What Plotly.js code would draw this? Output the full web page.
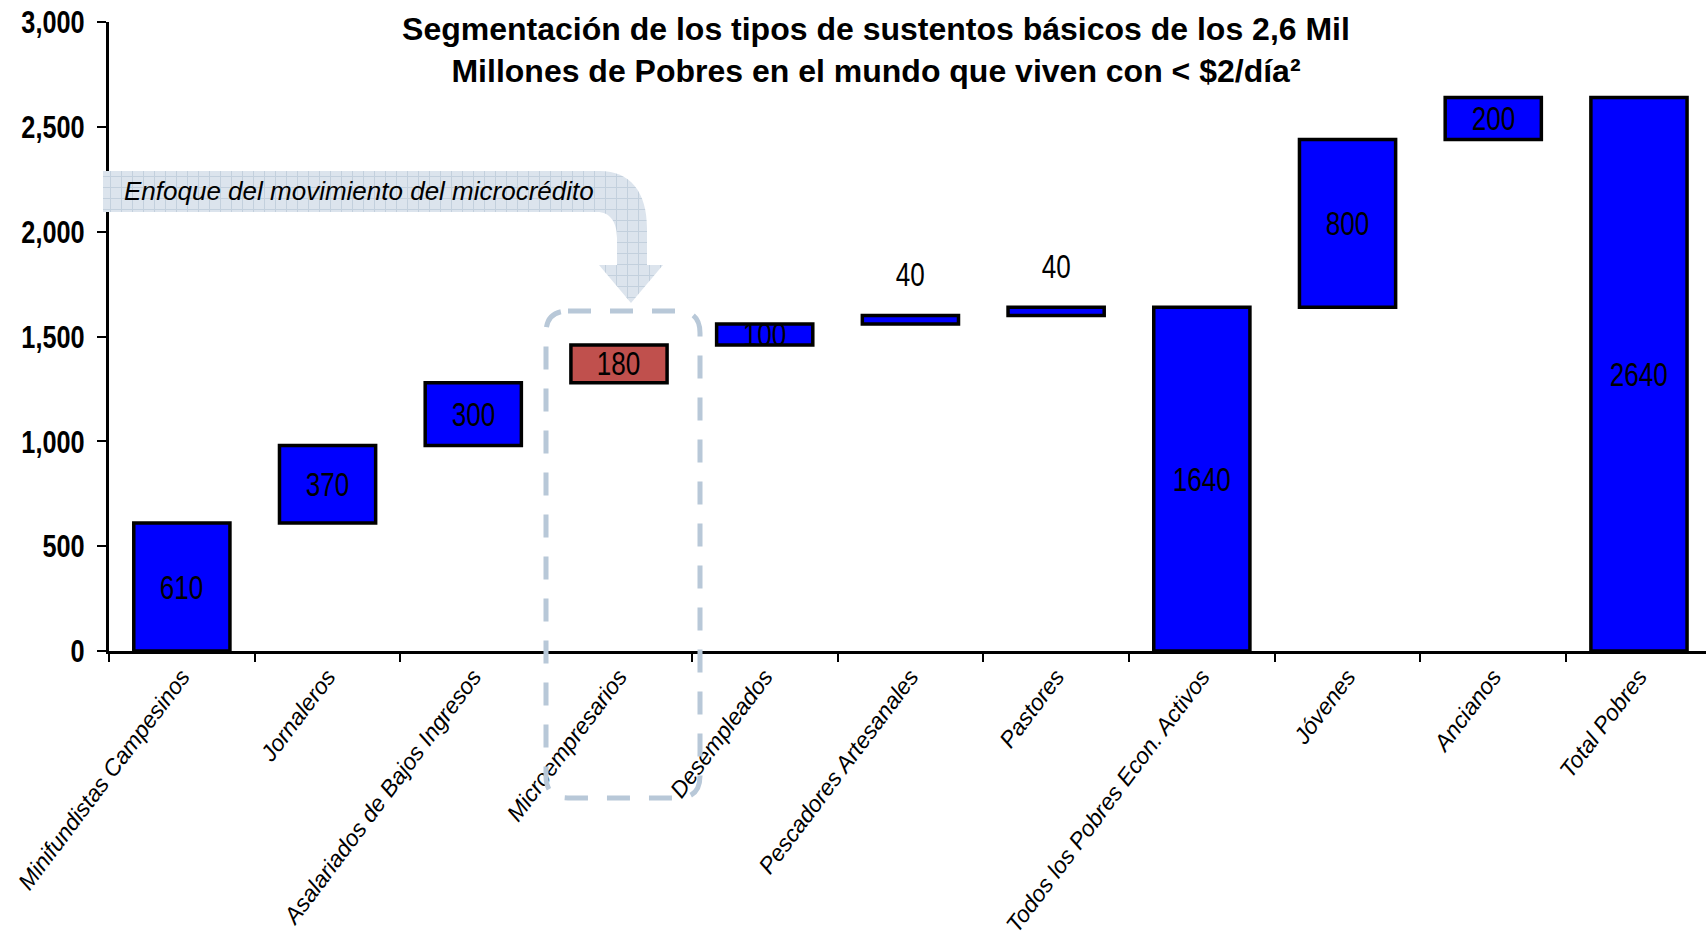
<!DOCTYPE html>
<html>
<head>
<meta charset="utf-8">
<script src="https://cdn.plot.ly/plotly-3.0.1.min.js"></script>
<style>
  html, body { margin: 0; padding: 0; background: #fff; }
  #chart { width: 1706px; height: 939px; }
</style>
</head>
<body>
<div id="chart"></div>
<script>
// Livelihood segments of the world's poor (millions of people)
const categories = [
  'Minifundistas Campesinos',
  'Jornaleros',
  'Asalariados de Bajos Ingresos',
  'Microempresarios',
  'Desempleados',
  'Pescadores Artesanales',
  'Pastores',
  'Todos los Pobres Econ. Activos',
  'Jóvenes',
  'Ancianos',
  'Total Pobres'
];
const values = [610, 370, 300, 180, 100, 40, 40, 1640, 800, 200, 2640];
// 'step' bars stack on the running total, 'total' bars start from zero
const barKinds = ['step', 'step', 'step', 'step', 'step', 'step', 'step', 'total', 'step', 'step', 'total'];
const highlightedCategory = 'Microempresarios';
const yTickValues = [0, 500, 1000, 1500, 2000, 2500, 3000];

const titleText = 'Segmentación de los tipos de sustentos básicos de los 2,6 Mil<br>' +
                  'Millones de Pobres en el mundo que viven con &lt; $2/día²';
const calloutText = 'Enfoque del movimiento del microcrédito';

// Waterfall bases from the running total
const bases = [];
let running = 0;
values.forEach((v, i) => {
  if (barKinds[i] === 'total') { bases.push(0); running = v; }
  else { bases.push(running); running += v; }
});

const BLUE = '#0000FF';
const RED = '#C0504D';
const colors = categories.map(c => c === highlightedCategory ? RED : BLUE);

// Page geometry
const W = 1706, H = 939;
const M = { l: 109, r: 0, t: 22, b: 288 };
const plotW = W - M.l - M.r, plotH = H - M.t - M.b;
const px = x => (x - M.l) / plotW;          // page pixel -> paper x
const py = y => (H - M.b - y) / plotH;      // page pixel -> paper y
const P = (x, y) => px(x).toFixed(5) + ',' + py(y).toFixed(5);

const SANS = '"Liberation Sans", Arial, sans-serif';
const NARROW_SCALE = 0.79;   // horizontal squeeze for the narrow numeric labels

const trace = {
  type: 'bar',
  x: categories,
  y: values,
  base: bases,
  width: 0.66,
  marker: { color: colors, line: { color: '#000', width: 3.5 } },
  hoverinfo: 'x+y',
  showlegend: false
};

// Value labels: centred in each bar, above the bar when it is too thin
const valueLabels = values.map((v, i) => {
  const thin = v < 60;
  return {
    x: categories[i], xref: 'x', yref: 'y',
    y: thin ? bases[i] + v : bases[i] + v / 2,
    yshift: thin ? 41 : 0,
    text: String(v), showarrow: false,
    xanchor: 'center', yanchor: 'middle',
    font: { family: SANS, size: 33, color: '#000' }
  };
});

// Callout arrow pointing at the microcredit segment
const arrowPath = 'M' + P(103, 171) + ' L' + P(600, 171) +
  ' C' + P(630, 171) + ' ' + P(647, 192) + ' ' + P(647, 228) +
  ' L' + P(647, 265) + ' L' + P(663, 265) + ' L' + P(631, 303) +
  ' L' + P(599, 265) + ' L' + P(617, 265) + ' L' + P(617, 238) +
  ' C' + P(617, 222) + ' ' + P(610, 212) + ' ' + P(597, 212) +
  ' L' + P(103, 212) + ' Z';

// Dashed rounded frame around the microcredit bar and its label
const fL = 546, fR = 700, fT = 311, fB = 798, fr = 22;
const framePath = 'M' + P(fL + fr, fT) + ' L' + P(fR - fr, fT) +
  ' Q' + P(fR, fT) + ' ' + P(fR, fT + fr) + ' L' + P(fR, fB - fr) +
  ' Q' + P(fR, fB) + ' ' + P(fR - fr, fB) + ' L' + P(fL + fr, fB) +
  ' Q' + P(fL, fB) + ' ' + P(fL, fB - fr) + ' L' + P(fL, fT + fr) +
  ' Q' + P(fL, fT) + ' ' + P(fL + fr, fT) + ' Z';

const layout = {
  width: W, height: H,
  margin: M,
  paper_bgcolor: '#fff', plot_bgcolor: '#fff',
  title: {
    text: titleText,
    font: { family: SANS, size: 32, weight: 'bold', color: '#000' },
    xref: 'paper', x: px(876), xanchor: 'center',
    yref: 'container', y: 1 - 40 / H, yanchor: 'top'
  },
  xaxis: {
    type: 'category',
    range: [-0.5, 10.46],
    tickson: 'boundaries',
    ticks: 'outside', ticklen: 8, tickwidth: 2, tickcolor: '#000',
    showline: true, linewidth: 3, linecolor: '#000',
    showgrid: false, zeroline: false,
    tickangle: -53,
    tickfont: { family: SANS, size: 23, style: 'italic', color: '#000' },
    automargin: false
  },
  yaxis: {
    range: [0, 3000],
    tickvals: yTickValues,
    tickformat: ',d',
    ticks: 'outside', ticklen: 9, tickwidth: 2, tickcolor: '#000',
    ticklabelstandoff: 6,
    showline: true, linewidth: 3, linecolor: '#000',
    showgrid: false, zeroline: false,
    tickfont: { family: SANS, size: 32, weight: 'bold', color: '#000' },
    automargin: false
  },
  shapes: [
    {
      type: 'path', xref: 'paper', yref: 'paper', layer: 'above',
      path: arrowPath,
      fillcolor: '#D8E1EA', line: { width: 0 }
    },
    {
      type: 'path', xref: 'paper', yref: 'paper', layer: 'above',
      path: framePath,
      fillcolor: 'rgba(0,0,0,0)',
      line: { color: '#B8C8D8', width: 5, dash: '23px,19px' }
    }
  ],
  annotations: valueLabels.concat([{
    xref: 'paper', yref: 'paper',
    x: px(122), y: py(191.5), xanchor: 'left', yanchor: 'middle',
    text: calloutText, showarrow: false,
    font: { family: SANS, size: 26, style: 'italic', color: '#000' }
  }])
};

// Squeeze a text element horizontally about its right edge or its centre
function squeeze(el, s, anchor) {
  const b = el.getBBox();
  const cx = anchor === 'end' ? b.x + b.width : b.x + b.width / 2;
  const cy = b.y + b.height / 2;
  const t = el.getAttribute('transform') || '';
  el.setAttribute('transform',
    t + ' translate(' + cx + ',' + cy + ') scale(' + s + ',1) translate(' + (-cx) + ',' + (-cy) + ')');
}

// Light grid texture for the callout arrow
function addArrowTexture(gd) {
  const NS = 'http://www.w3.org/2000/svg';
  const svg = gd.querySelector('svg.main-svg');
  let defs = svg.querySelector('defs');
  if (!defs) { defs = document.createElementNS(NS, 'defs'); svg.insertBefore(defs, svg.firstChild); }
  const pat = document.createElementNS(NS, 'pattern');
  pat.setAttribute('id', 'calloutGrid');
  pat.setAttribute('patternUnits', 'userSpaceOnUse');
  pat.setAttribute('width', '11');
  pat.setAttribute('height', '11');
  const bg = document.createElementNS(NS, 'rect');
  bg.setAttribute('width', '11'); bg.setAttribute('height', '11');
  bg.setAttribute('fill', '#DCE4ED');
  const grid = document.createElementNS(NS, 'path');
  grid.setAttribute('d', 'M0,0.5 H11 M0.5,0 V11');
  grid.setAttribute('stroke', '#C3D0DD');
  grid.setAttribute('stroke-width', '1');
  grid.setAttribute('fill', 'none');
  pat.appendChild(bg); pat.appendChild(grid);
  defs.appendChild(pat);
  const arrow = gd.querySelector('.layer-above .shapelayer path[data-index="0"]');
  if (arrow) { arrow.style.fill = 'url(#calloutGrid)'; arrow.style.fillOpacity = 1; }
}

Plotly.newPlot('chart', [trace], layout, { displayModeBar: false, responsive: false })
  .then(gd => {
    gd.querySelectorAll('g.ytick text').forEach(el => squeeze(el, NARROW_SCALE, 'end'));
    gd.querySelectorAll('g.annotation').forEach(g => {
      const idx = +g.getAttribute('data-index');
      if (idx < values.length) {
        g.querySelectorAll('text').forEach(el => squeeze(el, NARROW_SCALE, 'middle'));
      }
    });
    addArrowTexture(gd);
  });
</script>
</body>
</html>
